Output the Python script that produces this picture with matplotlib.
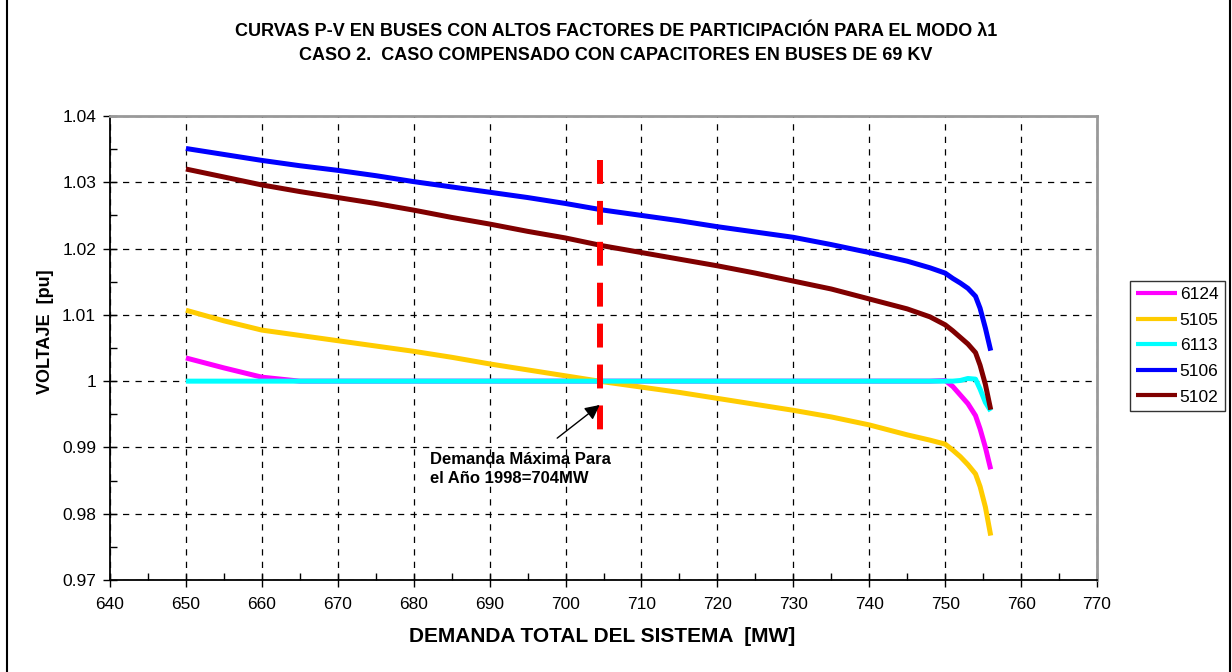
import matplotlib
matplotlib.use("Agg")
import matplotlib.pyplot as plt
from matplotlib.patches import Rectangle
from matplotlib.ticker import MultipleLocator

plt.rcParams['font.family'] = ['Liberation Sans', 'DejaVu Sans']

demand = [650, 655, 660, 665, 670, 675, 680, 685, 690, 695, 700, 705, 710, 715,
          720, 725, 730, 735, 740, 745, 748, 750, 751, 752, 753, 754, 754.6, 755.3, 756]

v6124 = [1.0035, 1.0020, 1.0006, 1.0000, 1.0000, 1.0000, 1.0000, 1.0000, 1.0000, 1.0000,
         1.0000, 1.0000, 1.0000, 1.0000, 1.0000, 1.0000, 1.0000, 1.0000, 1.0000, 1.0000,
         1.0000, 1.0001, 0.9992, 0.9979, 0.9966, 0.9948, 0.9928, 0.9900, 0.9867]
v5105 = [1.0107, 1.0091, 1.0077, 1.0069, 1.0061, 1.0053, 1.0045, 1.0036, 1.0026, 1.0017,
         1.0008, 0.9999, 0.9991, 0.9983, 0.9974, 0.9965, 0.9956, 0.9946, 0.9934, 0.9919,
         0.9911, 0.9905, 0.9896, 0.9886, 0.9874, 0.9860, 0.9841, 0.9810, 0.9767]
v6113 = [1.0000, 1.0000, 1.0000, 1.0000, 1.0000, 1.0000, 1.0000, 1.0000, 1.0000, 1.0000,
         1.0000, 1.0000, 1.0000, 1.0000, 1.0000, 1.0000, 1.0000, 1.0000, 1.0000, 1.0000,
         1.0000, 1.0000, 1.0000, 1.0001, 1.0004, 1.0003, 0.9988, 0.9968, 0.9955]
v5106 = [1.0351, 1.0342, 1.0333, 1.0325, 1.0318, 1.0310, 1.0301, 1.0293, 1.0285, 1.0277,
         1.0268, 1.0258, 1.0250, 1.0242, 1.0233, 1.0225, 1.0217, 1.0206, 1.0194, 1.0181,
         1.0171, 1.0163, 1.0155, 1.0148, 1.0140, 1.0128, 1.0110, 1.0080, 1.0046]
v5102 = [1.0320, 1.0308, 1.0296, 1.0286, 1.0277, 1.0268, 1.0258, 1.0247, 1.0237, 1.0226,
         1.0216, 1.0204, 1.0194, 1.0184, 1.0174, 1.0163, 1.0151, 1.0139, 1.0124, 1.0109,
         1.0097, 1.0085, 1.0076, 1.0066, 1.0056, 1.0043, 1.0024, 0.9995, 0.9957]

series_names = ['6124', '5105', '6113', '5106', '5102']
series_values = [v6124, v5105, v6113, v5106, v5102]
series_colors = ['#ff00ff', '#ffcc00', '#00ffff', '#0000ff', '#800000']

max_demand = 704.5
marker_range = [1.0334, 0.9923]

title_lines = ['CURVAS P-V EN BUSES CON ALTOS FACTORES DE PARTICIPACIÓN PARA EL MODO λ1',
               'CASO 2.  CASO COMPENSADO CON CAPACITORES EN BUSES DE 69 KV']

W, H = 1232, 672
fig = plt.figure(figsize=(W / 100, H / 100), dpi=100)
ax = fig.add_axes([110 / W, 1 - 580 / H, (1097 - 110) / W, (580 - 116) / H])

lines = []
for name, vals, col in zip(series_names, series_values, series_colors):
    ln, = ax.plot(demand, vals, color=col, lw=3.6, label=name, solid_capstyle='butt',
                  solid_joinstyle='round')
    lines.append(ln)

ax.plot([max_demand, max_demand], marker_range, color='#ff0000', lw=4.3,
        dashes=(4.0, 2.85), solid_capstyle='butt', dash_capstyle='butt', zorder=5)

ax.annotate('', xy=(max_demand, 0.9964), xytext=(698.9, 0.9914),
            arrowprops=dict(arrowstyle='-|>', color='black', lw=1.0, mutation_scale=22,
                            shrinkA=0, shrinkB=0), zorder=6)
ax.text(682.2, 0.9893, 'Demanda Máxima Para\nel Año 1998=704MW', ha='left', va='top',
        fontsize=12, fontweight='bold', linespacing=1.3, zorder=6)

ax.set_xlim(640, 770)
ax.set_ylim(0.97, 1.04)
ax.xaxis.set_major_locator(MultipleLocator(10))
ax.xaxis.set_minor_locator(MultipleLocator(5))
ax.yaxis.set_minor_locator(MultipleLocator(0.005))
ax.set_yticks([0.97, 0.98, 0.99, 1.0, 1.01, 1.02, 1.03, 1.04])
ax.set_yticklabels(['0.97', '0.98', '0.99', '1', '1.01', '1.02', '1.03', '1.04'])
ax.tick_params(which='major', direction='inout', length=10, width=1, labelsize=12.5)
ax.tick_params(axis='x', which='major', pad=7)
ax.tick_params(axis='y', which='major', pad=5)
ax.tick_params(which='minor', direction='in', length=5, width=1)
ax.grid(True, which='major', color='black', lw=0.9, dashes=(5, 5))
ax.set_axisbelow(True)

for s in ['left', 'bottom']:
    ax.spines[s].set_color('black')
    ax.spines[s].set_linewidth(1.3)
for s in ['top', 'right']:
    ax.spines[s].set_color('#999999')
    ax.spines[s].set_linewidth(2.0)

leg = fig.legend(handles=lines, loc='upper left', bbox_to_anchor=(1130 / W, 1 - 281 / H),
                 fontsize=12.5, frameon=True, fancybox=False, edgecolor='black',
                 handlelength=2.36, handletextpad=0.15, labelspacing=0.6,
                 borderpad=0.35, borderaxespad=0)
leg.get_frame().set_linewidth(1.0)
for lh in leg.get_lines():
    lh.set_linewidth(3)

for txt, yy in zip(title_lines, [31, 55]):
    fig.text(616 / W, 1 - yy / H, txt, ha='center', va='center',
             fontsize=13, fontweight='bold')

fig.text(45 / W, 1 - 332 / H, 'VOLTAJE  [pu]', rotation=90, ha='center', va='center',
         fontsize=13, fontweight='bold')
fig.text(602 / W, 1 - 636 / H, 'DEMANDA TOTAL DEL SISTEMA  [MW]', ha='center', va='center',
         fontsize=15, fontweight='bold')

fig.patches.append(Rectangle((7 / W, -0.01), (1230 - 7) / W, 1.02, transform=fig.transFigure,
                             fill=False, edgecolor='black', lw=1.5))

fig.savefig('out.png', dpi=100)
